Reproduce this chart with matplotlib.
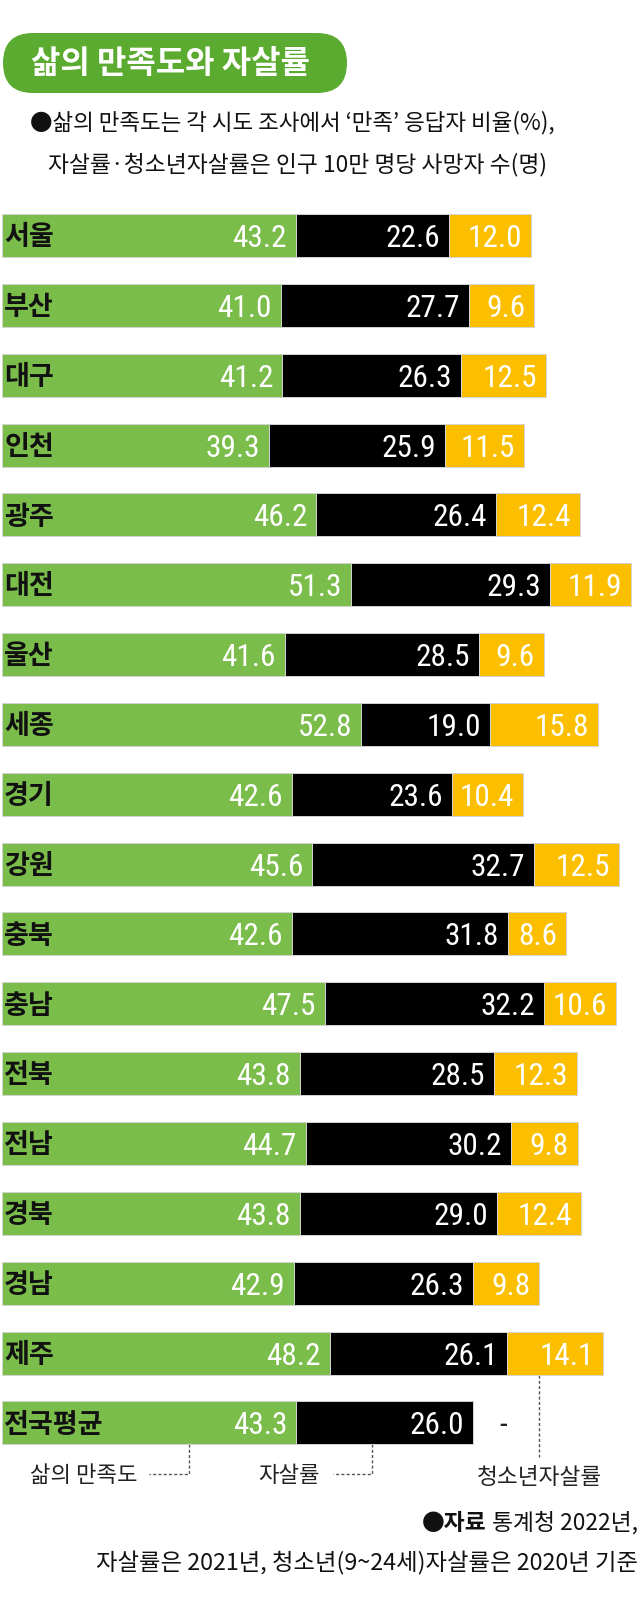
import matplotlib
matplotlib.use("Agg")
import matplotlib.pyplot as plt
from matplotlib.patches import FancyBboxPatch
from matplotlib import font_manager as fm
import numpy as np

# ---------------- data ----------------
regions = ["서울", "부산", "대구", "인천", "광주", "대전", "울산", "세종", "경기",
           "강원", "충북", "충남", "전북", "전남", "경북", "경남", "제주", "전국평균"]
satisfaction = [43.2, 41.0, 41.2, 39.3, 46.2, 51.3, 41.6, 52.8, 42.6,
                45.6, 42.6, 47.5, 43.8, 44.7, 43.8, 42.9, 48.2, 43.3]
suicide_rate = [22.6, 27.7, 26.3, 25.9, 26.4, 29.3, 28.5, 19.0, 23.6,
                32.7, 31.8, 32.2, 28.5, 30.2, 29.0, 26.3, 26.1, 26.0]
youth_suicide = [12.0, 9.6, 12.5, 11.5, 12.4, 11.9, 9.6, 15.8, 10.4,
                 12.5, 8.6, 10.6, 12.3, 9.8, 12.4, 9.8, 14.1, np.nan]

title = "삶의 만족도와 자살률"
subtitle1 = "●삶의 만족도는 각 시도 조사에서 ‘만족’ 응답자 비율(%),"
subtitle2 = "자살률·청소년자살률은 인구 10만 명당 사망자 수(명)"
legend_labels = ["삶의 만족도", "자살률", "청소년자살률"]
source_bold = "●자료"
source1 = "통계청 2022년,"
source2 = "자살률은 2021년, 청소년(9~24세)자살률은 2020년 기준"

# ---------------- style ----------------
GREEN = "#7bbd4a"
BLACK = "#000000"
YELLOW = "#fbbf00"
PILL = "#5aab2f"
KR = ["Noto Sans CJK KR", "DejaVu Sans"]


def pick_condensed_font():
    """Find a narrow sans font for the numbers."""
    fl = fm.fontManager.ttflist
    pref_names = ["Liberation Sans Narrow", "Roboto Condensed", "Open Sans Condensed",
                  "DejaVu Sans Condensed", "Noto Sans Condensed", "Arial Narrow"]
    for nm in pref_names:
        for f in fl:
            if f.name == nm and f.style == "normal" and f.weight in (400, "normal", "regular"):
                return fm.FontProperties(fname=f.fname)
        for f in fl:
            if f.name == nm and f.style == "normal":
                return fm.FontProperties(fname=f.fname)
    cond = ("condensed", "semi-condensed", "extra-condensed", "ultra-condensed")
    for fam in ["Roboto", "Liberation Sans", "Open Sans", "Noto Sans", "DejaVu Sans", "Lato", "Inter"]:
        for f in fl:
            if f.name == fam and str(f.stretch) in cond and f.style == "normal" \
                    and f.weight in (400, "normal", "regular"):
                return fm.FontProperties(fname=f.fname)
        for f in fl:
            if f.name == fam and str(f.stretch) in cond and f.style == "normal":
                return fm.FontProperties(fname=f.fname)
    for f in fl:
        if "narrow" in f.fname.lower() or "condensed" in f.fname.lower():
            if "bold" not in f.fname.lower() and "italic" not in f.fname.lower():
                return fm.FontProperties(fname=f.fname)
    return None


NUMFP = pick_condensed_font()

W, H = 640, 1602
fig = plt.figure(figsize=(W / 100, H / 100), dpi=100)
fig.patch.set_facecolor("white")

# overlay axes in pixel coordinates for titles / notes
ov = fig.add_axes([0, 0, 1, 1])
ov.set_xlim(0, W)
ov.set_ylim(H, 0)
ov.axis("off")

# bar axes
px_per_unit = 6.8
left_px = 2
c0, step = 235.5, 69.85
n = len(regions)
top_px = c0 - step / 2
bot_px = c0 + (n - 1) * step + step / 2
ax = fig.add_axes([left_px / W, 1 - bot_px / H, (W - left_px) / W, (bot_px - top_px) / H])
ax.set_xlim(0, (W - left_px) / px_per_unit)
ax.set_ylim(n - 0.5, -0.5)
ax.axis("off")
ax.patch.set_alpha(0)

y = np.arange(n)
sat = np.array(satisfaction)
sui = np.array(suicide_rate)
you = np.array(youth_suicide)
bh = 43 / step
edge = dict(edgecolor="#d4d4d4", linewidth=0.7)

ax.barh(y, sat, height=bh, color=GREEN, **edge)
ax.barh(y, sui, left=sat, height=bh, color=BLACK, **edge)
ax.barh(y, np.nan_to_num(you), left=sat + sui, height=bh, color=YELLOW, **edge)

if NUMFP is not None:
    numfp = NUMFP.copy()
    numfp.set_size(22.5)
    num_font = dict(fontproperties=numfp)
else:
    num_font = dict(fontsize=18, family=["DejaVu Sans"])

num_kw = dict(textcoords="offset points", ha="right", va="center_baseline",
              color="white", **num_font)
for i in range(n):
    ax.annotate(regions[i], xy=(0, i), xytext=(1.5, -1.2), textcoords="offset points",
                ha="left", va="center", fontsize=19.5, fontweight="bold",
                family=KR, color="#111111")
    ax.annotate(f"{sat[i]:.1f}", xy=(sat[i], i), xytext=(-6.5, 0), **num_kw)
    ax.annotate(f"{sui[i]:.1f}", xy=(sat[i] + sui[i], i), xytext=(-6.5, 0), **num_kw)
    if np.isnan(you[i]):
        dkw = dict(num_kw)
        dkw.update(ha="center", color="#222222")
        ax.annotate("-", xy=(sat[i] + sui[i], i), xytext=(21.6, 0), **dkw)
    else:
        ax.annotate(f"{you[i]:.1f}", xy=(sat[i] + sui[i] + you[i], i), xytext=(-6.5, 0), **num_kw)

# ---------------- title pill ----------------
pill = FancyBboxPatch((3, 33), 344, 60, boxstyle="round,pad=0,rounding_size=30",
                      facecolor=PILL, edgecolor="none")
ov.add_patch(pill)
ov.text(31, 64, title, color="white", fontsize=23, fontweight="bold",
        family=KR, ha="left", va="center")

# subtitles
ov.text(30, 123, subtitle1, fontsize=16.2, family=KR, color="#111111", ha="left", va="center")
ov.text(48, 165, subtitle2, fontsize=16.4, family=KR, color="#111111", ha="left", va="center")

# ---------------- legend leaders ----------------
dash = dict(color="#555555", linewidth=1.0, linestyle=(0, (2.2, 1.6)))
bar_bottom = c0 + (n - 1) * step + 21.5
ov.plot([189, 189, 149], [bar_bottom, 1474, 1474], **dash)
ov.plot([372, 372, 333], [bar_bottom, 1474, 1474], **dash)
jeju_bottom = c0 + (n - 2) * step + 21.5
ov.plot([539, 539], [jeju_bottom, 1457], **dash)
ov.text(138, 1475, legend_labels[0], fontsize=16, family=KR, color="#222222",
        ha="right", va="center")
ov.text(320, 1475, legend_labels[1], fontsize=16, family=KR, color="#222222",
        ha="right", va="center")
ov.text(539.5, 1477, legend_labels[2], fontsize=16.3, family=KR, color="#222222",
        ha="center", va="center")

# ---------------- source ----------------
t1 = ov.text(638, 1523, source1, fontsize=16.4, family=KR, color="#111111",
             ha="right", va="center")
ov.annotate(source_bold, xy=(0, 0.5), xycoords=t1, xytext=(-4, 0),
            textcoords="offset points", fontsize=16.4, family=KR, fontweight="bold",
            color="#111111", ha="right", va="center")
ov.text(638, 1563, source2, fontsize=16.8, family=KR, color="#111111",
        ha="right", va="center")

fig.savefig("out.png", dpi=100, facecolor="white")
